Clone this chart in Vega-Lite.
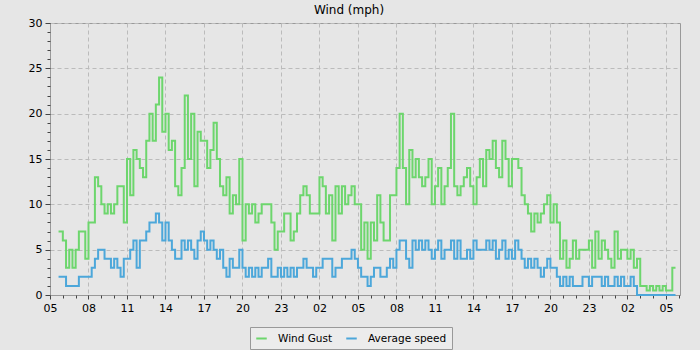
{
 "$schema": "https://vega.github.io/schema/vega-lite/v6.json",
 "width": 630, "height": 272,
 "autosize": {"type": "none"},
 "padding": {"left": 50, "top": 23, "right": 20, "bottom": 55},
 "background": "#e6e6e6",
 "title": {"text": "Wind (mph)", "fontSize": 12, "fontWeight": "normal", "font": "DejaVu Sans", "color": "#000", "offset": 0, "dx": -16},
 "config": {
  "view": {"stroke": "#999", "fill": "#e6e6e6"},
  "axis": {"labelFont": "DejaVu Sans", "labelFontSize": 11, "labelColor": "#000", "domainColor": "#999", "tickColor": "#444", "gridColor": "#bbbbbb", "gridDash": [4, 3]}
 },
 "data": {"values": [
  {"t":"2024-06-01T05:40","g":7,"a":2},{"t":"2024-06-01T05:45","g":7,"a":2},{"t":"2024-06-01T06:00","g":6,"a":2},{"t":"2024-06-01T06:15","g":3,"a":1},
  {"t":"2024-06-01T06:30","g":5,"a":1},{"t":"2024-06-01T06:45","g":3,"a":1},{"t":"2024-06-01T07:00","g":5,"a":1},{"t":"2024-06-01T07:15","g":7,"a":2},
  {"t":"2024-06-01T07:30","g":7,"a":2},{"t":"2024-06-01T07:45","g":4,"a":2},{"t":"2024-06-01T08:00","g":8,"a":2},{"t":"2024-06-01T08:15","g":8,"a":3},
  {"t":"2024-06-01T08:30","g":13,"a":4},{"t":"2024-06-01T08:45","g":12,"a":5},{"t":"2024-06-01T09:00","g":10,"a":5},{"t":"2024-06-01T09:15","g":9,"a":4},
  {"t":"2024-06-01T09:30","g":10,"a":4},{"t":"2024-06-01T09:45","g":9,"a":3},{"t":"2024-06-01T10:00","g":10,"a":4},{"t":"2024-06-01T10:15","g":12,"a":3},
  {"t":"2024-06-01T10:30","g":12,"a":2},{"t":"2024-06-01T10:45","g":8,"a":4},{"t":"2024-06-01T11:00","g":15,"a":4},{"t":"2024-06-01T11:15","g":11,"a":5},
  {"t":"2024-06-01T11:30","g":16,"a":6},{"t":"2024-06-01T11:45","g":15,"a":3},{"t":"2024-06-01T12:00","g":14,"a":6},{"t":"2024-06-01T12:15","g":13,"a":6},
  {"t":"2024-06-01T12:30","g":17,"a":7},{"t":"2024-06-01T12:45","g":20,"a":8},{"t":"2024-06-01T13:00","g":17,"a":8},{"t":"2024-06-01T13:15","g":21,"a":9},
  {"t":"2024-06-01T13:30","g":24,"a":8},{"t":"2024-06-01T13:45","g":18,"a":6},{"t":"2024-06-01T14:00","g":20,"a":8},{"t":"2024-06-01T14:15","g":16,"a":6},
  {"t":"2024-06-01T14:30","g":17,"a":5},{"t":"2024-06-01T14:45","g":12,"a":4},{"t":"2024-06-01T15:00","g":11,"a":4},{"t":"2024-06-01T15:15","g":14,"a":6},
  {"t":"2024-06-01T15:30","g":22,"a":5},{"t":"2024-06-01T15:45","g":15,"a":6},{"t":"2024-06-01T16:00","g":20,"a":5},{"t":"2024-06-01T16:15","g":12,"a":4},
  {"t":"2024-06-01T16:30","g":18,"a":6},{"t":"2024-06-01T16:45","g":17,"a":7},{"t":"2024-06-01T17:00","g":17,"a":6},{"t":"2024-06-01T17:15","g":14,"a":5},
  {"t":"2024-06-01T17:30","g":16,"a":6},{"t":"2024-06-01T17:45","g":19,"a":5},{"t":"2024-06-01T18:00","g":15,"a":4},{"t":"2024-06-01T18:15","g":12,"a":5},
  {"t":"2024-06-01T18:30","g":11,"a":3},{"t":"2024-06-01T18:45","g":13,"a":2},{"t":"2024-06-01T19:00","g":9,"a":4},{"t":"2024-06-01T19:15","g":11,"a":3},
  {"t":"2024-06-01T19:30","g":10,"a":3},{"t":"2024-06-01T19:45","g":15,"a":5},{"t":"2024-06-01T20:00","g":6,"a":3},{"t":"2024-06-01T20:15","g":10,"a":2},
  {"t":"2024-06-01T20:30","g":9,"a":3},{"t":"2024-06-01T20:45","g":10,"a":2},{"t":"2024-06-01T21:00","g":8,"a":3},{"t":"2024-06-01T21:15","g":9,"a":2},
  {"t":"2024-06-01T21:30","g":10,"a":3},{"t":"2024-06-01T21:45","g":10,"a":3},{"t":"2024-06-01T22:00","g":10,"a":4},{"t":"2024-06-01T22:15","g":8,"a":2},
  {"t":"2024-06-01T22:30","g":5,"a":2},{"t":"2024-06-01T22:45","g":7,"a":3},{"t":"2024-06-01T23:00","g":7,"a":2},{"t":"2024-06-01T23:15","g":9,"a":3},
  {"t":"2024-06-01T23:30","g":9,"a":2},{"t":"2024-06-01T23:45","g":6,"a":3},
  {"t":"2024-06-02T00:00","g":7,"a":2},{"t":"2024-06-02T00:15","g":9,"a":3},{"t":"2024-06-02T00:30","g":11,"a":3},{"t":"2024-06-02T00:45","g":12,"a":4},
  {"t":"2024-06-02T01:00","g":11,"a":3},{"t":"2024-06-02T01:15","g":9,"a":3},{"t":"2024-06-02T01:30","g":9,"a":2},{"t":"2024-06-02T01:45","g":9,"a":3},
  {"t":"2024-06-02T02:00","g":13,"a":3},{"t":"2024-06-02T02:15","g":12,"a":4},{"t":"2024-06-02T02:30","g":9,"a":4},{"t":"2024-06-02T02:45","g":11,"a":4},
  {"t":"2024-06-02T03:00","g":6,"a":2},{"t":"2024-06-02T03:15","g":12,"a":3},{"t":"2024-06-02T03:30","g":9,"a":3},{"t":"2024-06-02T03:45","g":12,"a":4},
  {"t":"2024-06-02T04:00","g":10,"a":4},{"t":"2024-06-02T04:15","g":11,"a":4},{"t":"2024-06-02T04:30","g":12,"a":5},{"t":"2024-06-02T04:45","g":10,"a":4},
  {"t":"2024-06-02T05:00","g":10,"a":3},{"t":"2024-06-02T05:15","g":5,"a":2},{"t":"2024-06-02T05:30","g":8,"a":2},{"t":"2024-06-02T05:45","g":4,"a":1},
  {"t":"2024-06-02T06:00","g":8,"a":2},{"t":"2024-06-02T06:15","g":6,"a":3},{"t":"2024-06-02T06:30","g":11,"a":3},{"t":"2024-06-02T06:45","g":8,"a":2},
  {"t":"2024-06-02T07:00","g":6,"a":2},{"t":"2024-06-02T07:15","g":6,"a":3},{"t":"2024-06-02T07:30","g":11,"a":4},{"t":"2024-06-02T07:45","g":11,"a":3},
  {"t":"2024-06-02T08:00","g":14,"a":5},{"t":"2024-06-02T08:15","g":20,"a":6},{"t":"2024-06-02T08:30","g":14,"a":6},{"t":"2024-06-02T08:45","g":10,"a":4},
  {"t":"2024-06-02T09:00","g":16,"a":3},{"t":"2024-06-02T09:15","g":13,"a":6},{"t":"2024-06-02T09:30","g":15,"a":5},{"t":"2024-06-02T09:45","g":13,"a":6},
  {"t":"2024-06-02T10:00","g":12,"a":5},{"t":"2024-06-02T10:15","g":13,"a":6},{"t":"2024-06-02T10:30","g":15,"a":5},{"t":"2024-06-02T10:45","g":10,"a":4},
  {"t":"2024-06-02T11:00","g":12,"a":5},{"t":"2024-06-02T11:15","g":14,"a":6},{"t":"2024-06-02T11:30","g":10,"a":4},{"t":"2024-06-02T11:45","g":12,"a":5},
  {"t":"2024-06-02T12:00","g":14,"a":5},{"t":"2024-06-02T12:15","g":20,"a":6},{"t":"2024-06-02T12:30","g":12,"a":4},{"t":"2024-06-02T12:45","g":11,"a":6},
  {"t":"2024-06-02T13:00","g":12,"a":4},{"t":"2024-06-02T13:15","g":13,"a":4},{"t":"2024-06-02T13:30","g":14,"a":5},{"t":"2024-06-02T13:45","g":12,"a":4},
  {"t":"2024-06-02T14:00","g":10,"a":6},{"t":"2024-06-02T14:15","g":13,"a":5},{"t":"2024-06-02T14:30","g":15,"a":5},{"t":"2024-06-02T14:45","g":12,"a":5},
  {"t":"2024-06-02T15:00","g":16,"a":6},{"t":"2024-06-02T15:15","g":15,"a":5},{"t":"2024-06-02T15:30","g":17,"a":6},{"t":"2024-06-02T15:45","g":14,"a":4},
  {"t":"2024-06-02T16:00","g":13,"a":5},{"t":"2024-06-02T16:15","g":17,"a":6},{"t":"2024-06-02T16:30","g":15,"a":4},{"t":"2024-06-02T16:45","g":12,"a":5},
  {"t":"2024-06-02T17:00","g":15,"a":4},{"t":"2024-06-02T17:15","g":15,"a":6},{"t":"2024-06-02T17:30","g":14,"a":5},{"t":"2024-06-02T17:45","g":11,"a":4},
  {"t":"2024-06-02T18:00","g":10,"a":3},{"t":"2024-06-02T18:15","g":9,"a":4},{"t":"2024-06-02T18:30","g":7,"a":3},{"t":"2024-06-02T18:45","g":9,"a":4},
  {"t":"2024-06-02T19:00","g":8,"a":3},{"t":"2024-06-02T19:15","g":9,"a":2},{"t":"2024-06-02T19:30","g":10,"a":3},{"t":"2024-06-02T19:45","g":11,"a":4},
  {"t":"2024-06-02T20:00","g":8,"a":3},{"t":"2024-06-02T20:15","g":10,"a":3},{"t":"2024-06-02T20:30","g":8,"a":2},{"t":"2024-06-02T20:45","g":4,"a":1},
  {"t":"2024-06-02T21:00","g":6,"a":2},{"t":"2024-06-02T21:15","g":3,"a":1},{"t":"2024-06-02T21:30","g":4,"a":2},{"t":"2024-06-02T21:45","g":6,"a":1},
  {"t":"2024-06-02T22:00","g":4,"a":1},{"t":"2024-06-02T22:15","g":5,"a":1},{"t":"2024-06-02T22:30","g":5,"a":2},{"t":"2024-06-02T22:45","g":5,"a":2},
  {"t":"2024-06-02T23:00","g":6,"a":1},{"t":"2024-06-02T23:15","g":3,"a":2},{"t":"2024-06-02T23:30","g":7,"a":2},{"t":"2024-06-02T23:45","g":4,"a":2},
  {"t":"2024-06-03T00:00","g":6,"a":1},{"t":"2024-06-03T00:15","g":5,"a":2},{"t":"2024-06-03T00:30","g":4,"a":1},{"t":"2024-06-03T00:45","g":3,"a":1},
  {"t":"2024-06-03T01:00","g":7,"a":2},{"t":"2024-06-03T01:15","g":4,"a":1},{"t":"2024-06-03T01:30","g":5,"a":2},{"t":"2024-06-03T01:45","g":5,"a":1},
  {"t":"2024-06-03T02:00","g":4,"a":1},{"t":"2024-06-03T02:15","g":5,"a":2},{"t":"2024-06-03T02:30","g":3,"a":1},{"t":"2024-06-03T02:45","g":4,"a":0},
  {"t":"2024-06-03T03:00","g":1,"a":0},{"t":"2024-06-03T03:15","g":1,"a":0},{"t":"2024-06-03T03:30","g":0.5,"a":0},{"t":"2024-06-03T03:45","g":1,"a":0},
  {"t":"2024-06-03T04:00","g":0.5,"a":0},{"t":"2024-06-03T04:15","g":1,"a":0},{"t":"2024-06-03T04:30","g":0.5,"a":0},{"t":"2024-06-03T04:45","g":1,"a":0},
  {"t":"2024-06-03T05:00","g":0.5,"a":0},{"t":"2024-06-03T05:15","g":0.5,"a":0},{"t":"2024-06-03T05:30","g":3,"a":0},{"t":"2024-06-03T05:45","g":3,"a":0}
 ]},
 "transform": [{"fold": ["g", "a"], "as": ["series", "speed"]}],
 "layer": [
  {
   "mark": {"type": "line", "interpolate": "step-after", "strokeWidth": 2},
   "encoding": {
    "x": {"field": "t", "type": "temporal", "title": null,
     "scale": {"domain": [{"year": 2024, "month": 6, "date": 1, "hours": 5}, {"year": 2024, "month": 6, "date": 3, "hours": 6, "minutes": 6}]},
     "axis": {"orient": "bottom", "format": "%H", "tickSize": 4, "labelPadding": 3, "grid": true, "labelFlush": false, "labelOverlap": false,
      "values": [
       {"year": 2024, "month": 6, "date": 1, "hours": 5}, {"year": 2024, "month": 6, "date": 1, "hours": 8}, {"year": 2024, "month": 6, "date": 1, "hours": 11},
       {"year": 2024, "month": 6, "date": 1, "hours": 14}, {"year": 2024, "month": 6, "date": 1, "hours": 17}, {"year": 2024, "month": 6, "date": 1, "hours": 20},
       {"year": 2024, "month": 6, "date": 1, "hours": 23}, {"year": 2024, "month": 6, "date": 2, "hours": 2}, {"year": 2024, "month": 6, "date": 2, "hours": 5},
       {"year": 2024, "month": 6, "date": 2, "hours": 8}, {"year": 2024, "month": 6, "date": 2, "hours": 11}, {"year": 2024, "month": 6, "date": 2, "hours": 14},
       {"year": 2024, "month": 6, "date": 2, "hours": 17}, {"year": 2024, "month": 6, "date": 2, "hours": 20}, {"year": 2024, "month": 6, "date": 2, "hours": 23},
       {"year": 2024, "month": 6, "date": 3, "hours": 2}, {"year": 2024, "month": 6, "date": 3, "hours": 5}
      ]}},
    "y": {"field": "speed", "type": "quantitative", "title": null, "scale": {"domain": [0, 30], "nice": false},
     "axis": {"orient": "left", "values": [0, 5, 10, 15, 20, 25, 30], "tickSize": 5, "labelPadding": 3, "grid": true}},
    "color": {"field": "series", "type": "nominal",
     "scale": {"domain": ["g", "a"], "range": ["#6dd66d", "#4ca7da"]},
     "legend": {"orient": "none", "legendX": 200, "legendY": 304, "direction": "horizontal", "title": null,
      "fillColor": "#ececec", "strokeColor": "#999", "padding": 5, "symbolType": "stroke", "symbolStrokeWidth": 2, "symbolSize": 110,
      "labelFont": "DejaVu Sans", "labelFontSize": 10.5, "labelColor": "#000", "columnPadding": 9, "labelOffset": 10,
      "labelExpr": "datum.value == 'g' ? 'Wind Gust' : 'Average speed'"}}
   }
  },
  {
   "mark": {"type": "point", "opacity": 0},
   "encoding": {
    "x": {"field": "t", "type": "temporal", "title": null,
     "axis": {"orient": "bottom", "labels": false, "grid": false, "domain": false, "tickSize": 3,
      "values": [
       {"year":2024,"month":6,"date":1,"hours":5},{"year":2024,"month":6,"date":1,"hours":6},{"year":2024,"month":6,"date":1,"hours":7},{"year":2024,"month":6,"date":1,"hours":8},
       {"year":2024,"month":6,"date":1,"hours":9},{"year":2024,"month":6,"date":1,"hours":10},{"year":2024,"month":6,"date":1,"hours":11},{"year":2024,"month":6,"date":1,"hours":12},
       {"year":2024,"month":6,"date":1,"hours":13},{"year":2024,"month":6,"date":1,"hours":14},{"year":2024,"month":6,"date":1,"hours":15},{"year":2024,"month":6,"date":1,"hours":16},
       {"year":2024,"month":6,"date":1,"hours":17},{"year":2024,"month":6,"date":1,"hours":18},{"year":2024,"month":6,"date":1,"hours":19},{"year":2024,"month":6,"date":1,"hours":20},
       {"year":2024,"month":6,"date":1,"hours":21},{"year":2024,"month":6,"date":1,"hours":22},{"year":2024,"month":6,"date":1,"hours":23},{"year":2024,"month":6,"date":2,"hours":0},
       {"year":2024,"month":6,"date":2,"hours":1},{"year":2024,"month":6,"date":2,"hours":2},{"year":2024,"month":6,"date":2,"hours":3},{"year":2024,"month":6,"date":2,"hours":4},
       {"year":2024,"month":6,"date":2,"hours":5},{"year":2024,"month":6,"date":2,"hours":6},{"year":2024,"month":6,"date":2,"hours":7},{"year":2024,"month":6,"date":2,"hours":8},
       {"year":2024,"month":6,"date":2,"hours":9},{"year":2024,"month":6,"date":2,"hours":10},{"year":2024,"month":6,"date":2,"hours":11},{"year":2024,"month":6,"date":2,"hours":12},
       {"year":2024,"month":6,"date":2,"hours":13},{"year":2024,"month":6,"date":2,"hours":14},{"year":2024,"month":6,"date":2,"hours":15},{"year":2024,"month":6,"date":2,"hours":16},
       {"year":2024,"month":6,"date":2,"hours":17},{"year":2024,"month":6,"date":2,"hours":18},{"year":2024,"month":6,"date":2,"hours":19},{"year":2024,"month":6,"date":2,"hours":20},
       {"year":2024,"month":6,"date":2,"hours":21},{"year":2024,"month":6,"date":2,"hours":22},{"year":2024,"month":6,"date":2,"hours":23},{"year":2024,"month":6,"date":3,"hours":0},
       {"year":2024,"month":6,"date":3,"hours":1},{"year":2024,"month":6,"date":3,"hours":2},{"year":2024,"month":6,"date":3,"hours":3},{"year":2024,"month":6,"date":3,"hours":4},
       {"year":2024,"month":6,"date":3,"hours":5},{"year":2024,"month":6,"date":3,"hours":6}
      ]}},
    "y": {"field": "speed", "type": "quantitative", "title": null,
     "axis": {"orient": "left", "values": [0,1,2,3,4,5,6,7,8,9,10,11,12,13,14,15,16,17,18,19,20,21,22,23,24,25,26,27,28,29,30], "labels": false, "grid": false, "domain": false, "tickSize": 3}}
   }
  }
 ],
 "resolve": {"axis": {"x": "independent", "y": "independent"}}
}
